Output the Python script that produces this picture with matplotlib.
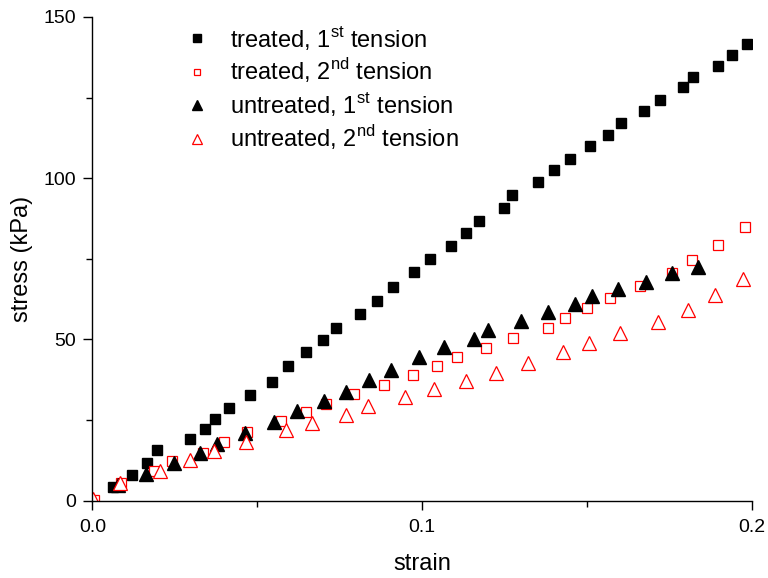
import matplotlib
matplotlib.use("Agg")
import matplotlib.pyplot as plt
from matplotlib.ticker import MultipleLocator

plt.rcParams['font.family'] = ['Liberation Sans', 'DejaVu Sans']
plt.rcParams['mathtext.fontset'] = 'custom'
plt.rcParams['mathtext.rm'] = 'Liberation Sans'

# treated, 1st tension
treated1_strain = [0.0062, 0.0121, 0.0165, 0.0197, 0.0296, 0.0342, 0.0372, 0.0415, 0.0479,
                   0.0545, 0.0593, 0.0648, 0.0699, 0.0739, 0.0812, 0.0863, 0.0913, 0.0974,
                   0.1024, 0.1089, 0.1132, 0.1172, 0.1248, 0.1274, 0.1350, 0.1399, 0.1448,
                   0.1508, 0.1565, 0.1603, 0.1674, 0.1722, 0.1791, 0.1821, 0.1897, 0.1941,
                   0.1986]
treated1_stress = [4.1, 8.0, 11.8, 15.7, 19.0, 22.3, 25.3, 28.8, 32.7,
                   36.8, 41.6, 46.0, 49.8, 53.5, 57.8, 61.8, 66.2, 70.8,
                   75.0, 79.0, 83.1, 86.6, 90.9, 94.8, 98.7, 102.6, 106.0,
                   110.0, 113.3, 117.2, 120.8, 124.2, 128.2, 131.4, 134.9, 138.1,
                   141.5]

# treated, 2nd tension
treated2_strain = [0.0005, 0.0088, 0.0187, 0.0242, 0.0335, 0.0399, 0.0469, 0.0572, 0.0647,
                   0.0710, 0.0795, 0.0883, 0.0973, 0.1045, 0.1107, 0.1194, 0.1276, 0.1381,
                   0.1432, 0.1501, 0.1570, 0.1660, 0.1759, 0.1818, 0.1897, 0.1980]
treated2_stress = [0.3, 5.5, 9.1, 12.2, 14.6, 18.1, 21.2, 24.6, 27.6,
                   30.0, 32.9, 35.9, 39.1, 41.7, 44.4, 47.3, 50.5, 53.5,
                   56.7, 59.7, 62.8, 66.5, 70.7, 74.6, 79.3, 84.8]

# untreated, 1st tension
untreated1_strain = [0.0079, 0.0163, 0.0248, 0.0326, 0.0378, 0.0462, 0.0551, 0.0622, 0.0702,
                     0.0769, 0.0838, 0.0907, 0.0991, 0.1067, 0.1157, 0.1199, 0.1301, 0.1382,
                     0.1465, 0.1516, 0.1594, 0.1680, 0.1759, 0.1838]
untreated1_stress = [4.7, 8.1, 11.8, 14.8, 17.4, 20.8, 24.3, 27.8, 30.9,
                     33.8, 37.4, 40.5, 44.4, 47.5, 50.1, 52.9, 55.6, 58.5,
                     60.9, 63.3, 65.5, 67.9, 70.7, 72.3]

# untreated, 2nd tension
untreated2_strain = [0.0003, 0.0083, 0.0206, 0.0295, 0.0368, 0.0467, 0.0587, 0.0665, 0.0769,
                     0.0837, 0.0947, 0.1036, 0.1133, 0.1223, 0.1322, 0.1427, 0.1506, 0.1601,
                     0.1715, 0.1806, 0.1888, 0.1973]
untreated2_stress = [0.4, 5.3, 9.2, 12.6, 15.4, 18.2, 22.0, 24.1, 26.5,
                     29.4, 32.1, 34.7, 37.1, 39.6, 42.6, 46.1, 48.8, 51.9,
                     55.3, 59.2, 63.7, 68.6]

fig = plt.figure(figsize=(7.68, 5.78), dpi=100)
ax = fig.add_axes([0.1202, 0.134, 0.8588, 0.8366])

ax.plot(treated1_strain, treated1_stress, ls='none', marker='s', ms=7.3,
        color='black', label=r'treated, 1$^{\mathrm{st}}$ tension')
ax.plot(treated2_strain, treated2_stress, ls='none', marker='s', ms=6.5,
        mfc='white', mec='red', mew=0.9, label=r'treated, 2$^{\mathrm{nd}}$ tension')
ax.plot(untreated1_strain, untreated1_stress, ls='none', marker='^', ms=9.5,
        color='black', label=r'untreated, 1$^{\mathrm{st}}$ tension')
ax.plot(untreated2_strain, untreated2_stress, ls='none', marker='^', ms=9.5,
        mfc='white', mec='red', mew=0.9, label=r'untreated, 2$^{\mathrm{nd}}$ tension')

ax.set_xlim(0, 0.2)
ax.set_ylim(0, 150)
ax.set_xticks([0, 0.1, 0.2])
ax.set_xticklabels(['0.0', '0.1', '0.2'])
ax.xaxis.set_minor_locator(MultipleLocator(0.05))
ax.yaxis.set_major_locator(MultipleLocator(50))
ax.yaxis.set_minor_locator(MultipleLocator(25))

for side in ('top', 'right'):
    ax.spines[side].set_visible(False)
for side in ('left', 'bottom'):
    ax.spines[side].set_linewidth(1.0)

ax.tick_params(which='major', direction='out', length=6.5, width=1.0, labelsize=14)
ax.tick_params(axis='x', which='major', pad=7)
ax.tick_params(axis='y', which='major', pad=5)
ax.tick_params(which='minor', direction='out', length=4, width=1.0)

ax.set_xlabel('strain', fontsize=17, labelpad=12)
ax.set_ylabel('stress (kPa)', fontsize=17, labelpad=8)

ax.legend(loc='upper left', bbox_to_anchor=(0.1266, 1.006), frameon=False, fontsize=17,
          markerscale=0.7, handlelength=1.0, handletextpad=0.9, labelspacing=0.21,
          borderaxespad=0)

fig.savefig('out.png', dpi=100)
